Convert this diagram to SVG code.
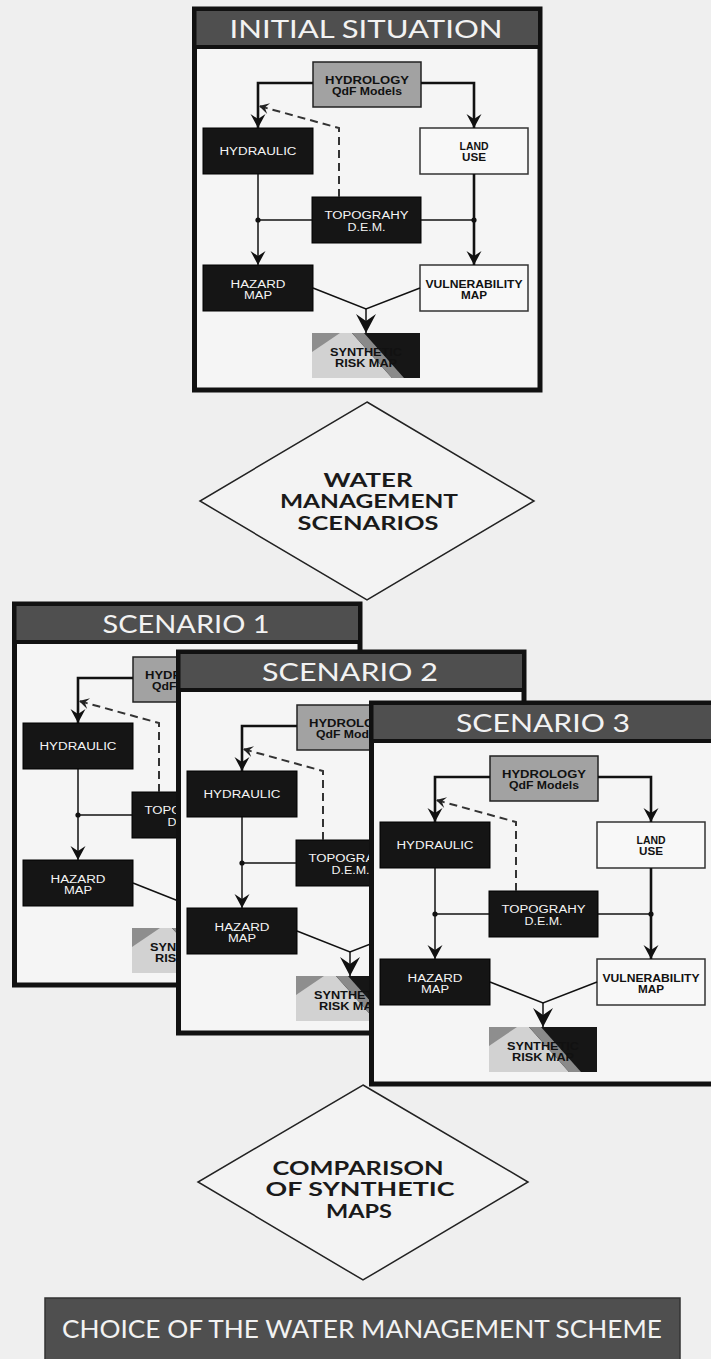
<svg xmlns="http://www.w3.org/2000/svg" width="711" height="1359" viewBox="0 0 711 1359">
<defs>
<style>
.frame{fill:#f5f5f5;stroke:#111;stroke-width:5}
.hdr{fill:#4f4f4f;stroke:#111;stroke-width:4}
.htxt{font-family:"Lato","Liberation Sans",sans-serif;font-size:25px;fill:#f2f2f2;text-anchor:middle}
.blk{fill:#151515;stroke:#000;stroke-width:1}
.gry{fill:#a2a2a2;stroke:#222;stroke-width:1.5}
.wht{fill:#f8f8f8;stroke:#333;stroke-width:1.5}
.wt{font-family:"Liberation Sans",Arial,sans-serif;font-size:10px;fill:#f4f4f4;text-anchor:middle}
.bt{font-family:"Liberation Sans",Arial,sans-serif;font-size:10.5px;font-weight:bold;fill:#111;text-anchor:middle}
.ln{stroke:#111;stroke-width:1.5;fill:none}
.thk{stroke:#111;stroke-width:2.6;fill:none}
.dash{stroke:#333;stroke-width:2;stroke-dasharray:8 5;fill:none}
.dot{fill:#111}
.dtxt{font-family:"Lato","Liberation Sans",sans-serif;font-size:19px;font-weight:bold;fill:#1a1a1a;text-anchor:middle}
.dia{fill:#f3f3f3;stroke:#222;stroke-width:1.5}
</style>
<marker id="ah" markerWidth="16" markerHeight="16" viewBox="-16 -8 16 16" refX="0" refY="0" orient="auto" markerUnits="userSpaceOnUse"><path d="M0,0 L-14,-7.5 L-9,0 L-14,7.5 Z" fill="#111"/></marker>
<marker id="ahb" markerWidth="22" markerHeight="22" viewBox="-22 -11 22 22" refX="0" refY="0" orient="auto" markerUnits="userSpaceOnUse"><path d="M0,0 L-19,-10 L-12,0 L-19,10 Z" fill="#111"/></marker>
<marker id="ahs" markerWidth="12" markerHeight="12" viewBox="-12 -6 12 12" refX="0" refY="0" orient="auto" markerUnits="userSpaceOnUse"><path d="M0,0 L-10,-5.5 L-6,0 L-10,5.5 Z" fill="#222"/></marker>
</defs>
<rect x="0" y="0" width="711" height="1359" fill="#efefef"/>

<!-- INITIAL SITUATION -->
<g id="initial-panel">
<rect class="frame" x="194.5" y="9" width="345.5" height="381"/>
<rect class="hdr" x="194.5" y="9" width="345.5" height="38"/>
<text class="htxt" x="366" y="38" textLength="273" lengthAdjust="spacingAndGlyphs">INITIAL SITUATION</text>
<g id="init-hydrology"><rect class="gry" x="313" y="62" width="108" height="45"/><text class="bt" x="367" y="84" textLength="84" lengthAdjust="spacingAndGlyphs">HYDROLOGY</text><text class="bt" x="367" y="95" textLength="70" lengthAdjust="spacingAndGlyphs">QdF Models</text></g>
<g id="init-hydraulic"><rect class="blk" x="203" y="128" width="110" height="46"/><text class="wt" x="258" y="155" textLength="77" lengthAdjust="spacingAndGlyphs">HYDRAULIC</text></g>
<g id="init-landuse"><rect class="wht" x="420" y="128" width="108" height="46"/><text class="bt" x="474" y="150" textLength="29" lengthAdjust="spacingAndGlyphs">LAND</text><text class="bt" x="474" y="161" textLength="24" lengthAdjust="spacingAndGlyphs">USE</text></g>
<g id="init-topography"><rect class="blk" x="312" y="197" width="109" height="46"/><text class="wt" x="366.5" y="219" textLength="84" lengthAdjust="spacingAndGlyphs">TOPOGRAHY</text><text class="wt" x="366.5" y="231" textLength="38" lengthAdjust="spacingAndGlyphs">D.E.M.</text></g>
<g id="init-hazard"><rect class="blk" x="203" y="265" width="110" height="46"/><text class="wt" x="258" y="288" textLength="55" lengthAdjust="spacingAndGlyphs">HAZARD</text><text class="wt" x="258" y="299" textLength="28" lengthAdjust="spacingAndGlyphs">MAP</text></g>
<g id="init-vulnerability"><rect class="wht" x="420" y="265" width="108" height="46"/><text class="bt" x="474" y="288" textLength="97" lengthAdjust="spacingAndGlyphs">VULNERABILITY</text><text class="bt" x="474" y="299" textLength="26" lengthAdjust="spacingAndGlyphs">MAP</text></g>
<g id="init-synthetic"><rect x="312" y="333" width="108" height="45" fill="#161616"/><polygon points="312,333 352,333 392,378 312,378" fill="#d2d2d2"/><polygon points="312,333 340,333 312,352" fill="#8e8e8e"/><polygon points="352,333 364,333 404,378 392,378" fill="#8a8a8a"/><text class="bt" x="366" y="356" textLength="72" lengthAdjust="spacingAndGlyphs">SYNTHETIC</text><text class="bt" x="366" y="367" textLength="62" lengthAdjust="spacingAndGlyphs">RISK MAP</text></g>
<g id="init-connectors">
<path class="thk" d="M313,83 H258 V128" marker-end="url(#ah)"/>
<path class="thk" d="M421,83 H474 V128" marker-end="url(#ah)"/>
<path class="ln" d="M258,174 V265" marker-end="url(#ah)"/>
<path class="thk" d="M474,174 V265" marker-end="url(#ah)"/>
<path class="ln" d="M312,220 H258"/><path class="ln" d="M421,220 H474"/>
<circle class="dot" cx="258" cy="220" r="2.6"/><circle class="dot" cx="474" cy="220" r="2.6"/>
<path class="dash" d="M339,197 V128 L259,106" marker-end="url(#ahs)"/>
<path class="ln" d="M313,288 L366,309 L420,288"/>
<path class="ln" d="M366,309 V333" marker-end="url(#ahb)"/>
</g>
</g>

<g id="water-scenarios">
<polygon class="dia" points="367,402 534,501 367,600 200,501"/>
<text class="dtxt" x="368" y="487" textLength="89" lengthAdjust="spacingAndGlyphs">WATER</text>
<text class="dtxt" x="369" y="508" textLength="178" lengthAdjust="spacingAndGlyphs">MANAGEMENT</text>
<text class="dtxt" x="368" y="530" textLength="141" lengthAdjust="spacingAndGlyphs">SCENARIOS</text>
</g>

<!-- SCENARIO 1 -->
<g id="scenario1" transform="translate(-180,595)">
<rect class="frame" x="194.5" y="9" width="345.5" height="381"/>
<rect class="hdr" x="194.5" y="9" width="345.5" height="38"/>
<text class="htxt" x="366" y="38" textLength="167" lengthAdjust="spacingAndGlyphs">SCENARIO 1</text>
<g id="s1-hydrology"><rect class="gry" x="313" y="62" width="108" height="45"/><text class="bt" x="367" y="84" textLength="84" lengthAdjust="spacingAndGlyphs">HYDROLOGY</text><text class="bt" x="367" y="95" textLength="70" lengthAdjust="spacingAndGlyphs">QdF Models</text></g>
<g id="s1-hydraulic"><rect class="blk" x="203" y="128" width="110" height="46"/><text class="wt" x="258" y="155" textLength="77" lengthAdjust="spacingAndGlyphs">HYDRAULIC</text></g>
<g id="s1-topography"><rect class="blk" x="312" y="197" width="109" height="46"/><text class="wt" x="366.5" y="219" textLength="84" lengthAdjust="spacingAndGlyphs">TOPOGRAHY</text><text class="wt" x="366.5" y="231" textLength="38" lengthAdjust="spacingAndGlyphs">D.E.M.</text></g>
<g id="s1-hazard"><rect class="blk" x="203" y="265" width="110" height="46"/><text class="wt" x="258" y="288" textLength="55" lengthAdjust="spacingAndGlyphs">HAZARD</text><text class="wt" x="258" y="299" textLength="28" lengthAdjust="spacingAndGlyphs">MAP</text></g>
<g id="s1-synthetic"><rect x="312" y="333" width="108" height="45" fill="#161616"/><polygon points="312,333 352,333 392,378 312,378" fill="#d2d2d2"/><polygon points="312,333 340,333 312,352" fill="#8e8e8e"/><polygon points="352,333 364,333 404,378 392,378" fill="#8a8a8a"/><text class="bt" x="366" y="356" textLength="72" lengthAdjust="spacingAndGlyphs">SYNTHETIC</text><text class="bt" x="366" y="367" textLength="62" lengthAdjust="spacingAndGlyphs">RISK MAP</text></g>
<g id="s1-connectors">
<path class="thk" d="M313,83 H258 V128" marker-end="url(#ah)"/>
<path class="ln" d="M258,174 V265" marker-end="url(#ah)"/>
<path class="ln" d="M312,220 H258"/>
<circle class="dot" cx="258" cy="220" r="2.6"/>
<path class="dash" d="M339,197 V128 L259,106" marker-end="url(#ahs)"/>
<path class="ln" d="M313,288 L366,309"/>
</g>
</g>

<!-- SCENARIO 2 -->
<g id="scenario2" transform="translate(-16,643)">
<rect class="frame" x="194.5" y="9" width="345.5" height="381"/>
<rect class="hdr" x="194.5" y="9" width="345.5" height="38"/>
<text class="htxt" x="366" y="38" textLength="176" lengthAdjust="spacingAndGlyphs">SCENARIO 2</text>
<g id="s2-hydrology"><rect class="gry" x="313" y="62" width="108" height="45"/><text class="bt" x="367" y="84" textLength="84" lengthAdjust="spacingAndGlyphs">HYDROLOGY</text><text class="bt" x="367" y="95" textLength="70" lengthAdjust="spacingAndGlyphs">QdF Models</text></g>
<g id="s2-hydraulic"><rect class="blk" x="203" y="128" width="110" height="46"/><text class="wt" x="258" y="155" textLength="77" lengthAdjust="spacingAndGlyphs">HYDRAULIC</text></g>
<g id="s2-topography"><rect class="blk" x="312" y="197" width="109" height="46"/><text class="wt" x="366.5" y="219" textLength="84" lengthAdjust="spacingAndGlyphs">TOPOGRAHY</text><text class="wt" x="366.5" y="231" textLength="38" lengthAdjust="spacingAndGlyphs">D.E.M.</text></g>
<g id="s2-hazard"><rect class="blk" x="203" y="265" width="110" height="46"/><text class="wt" x="258" y="288" textLength="55" lengthAdjust="spacingAndGlyphs">HAZARD</text><text class="wt" x="258" y="299" textLength="28" lengthAdjust="spacingAndGlyphs">MAP</text></g>
<g id="s2-synthetic"><rect x="312" y="333" width="108" height="45" fill="#161616"/><polygon points="312,333 352,333 392,378 312,378" fill="#d2d2d2"/><polygon points="312,333 340,333 312,352" fill="#8e8e8e"/><polygon points="352,333 364,333 404,378 392,378" fill="#8a8a8a"/><text class="bt" x="366" y="356" textLength="72" lengthAdjust="spacingAndGlyphs">SYNTHETIC</text><text class="bt" x="366" y="367" textLength="62" lengthAdjust="spacingAndGlyphs">RISK MAP</text></g>
<g id="s2-connectors">
<path class="thk" d="M313,83 H258 V128" marker-end="url(#ah)"/>
<path class="ln" d="M258,174 V265" marker-end="url(#ah)"/>
<path class="ln" d="M312,220 H258"/>
<circle class="dot" cx="258" cy="220" r="2.6"/>
<path class="dash" d="M339,197 V128 L259,106" marker-end="url(#ahs)"/>
<path class="ln" d="M313,288 L366,309 L420,288"/>
<path class="ln" d="M366,309 V333" marker-end="url(#ahb)"/>
</g>
</g>

<!-- SCENARIO 3 -->
<g id="scenario3" transform="translate(177,694)">
<rect class="frame" x="194.5" y="9" width="345.5" height="381"/>
<rect class="hdr" x="194.5" y="9" width="345.5" height="38"/>
<text class="htxt" x="366" y="38" textLength="174" lengthAdjust="spacingAndGlyphs">SCENARIO 3</text>
<g id="s3-hydrology"><rect class="gry" x="313" y="62" width="108" height="45"/><text class="bt" x="367" y="84" textLength="84" lengthAdjust="spacingAndGlyphs">HYDROLOGY</text><text class="bt" x="367" y="95" textLength="70" lengthAdjust="spacingAndGlyphs">QdF Models</text></g>
<g id="s3-hydraulic"><rect class="blk" x="203" y="128" width="110" height="46"/><text class="wt" x="258" y="155" textLength="77" lengthAdjust="spacingAndGlyphs">HYDRAULIC</text></g>
<g id="s3-landuse"><rect class="wht" x="420" y="128" width="108" height="46"/><text class="bt" x="474" y="150" textLength="29" lengthAdjust="spacingAndGlyphs">LAND</text><text class="bt" x="474" y="161" textLength="24" lengthAdjust="spacingAndGlyphs">USE</text></g>
<g id="s3-topography"><rect class="blk" x="312" y="197" width="109" height="46"/><text class="wt" x="366.5" y="219" textLength="84" lengthAdjust="spacingAndGlyphs">TOPOGRAHY</text><text class="wt" x="366.5" y="231" textLength="38" lengthAdjust="spacingAndGlyphs">D.E.M.</text></g>
<g id="s3-hazard"><rect class="blk" x="203" y="265" width="110" height="46"/><text class="wt" x="258" y="288" textLength="55" lengthAdjust="spacingAndGlyphs">HAZARD</text><text class="wt" x="258" y="299" textLength="28" lengthAdjust="spacingAndGlyphs">MAP</text></g>
<g id="s3-vulnerability"><rect class="wht" x="420" y="265" width="108" height="46"/><text class="bt" x="474" y="288" textLength="97" lengthAdjust="spacingAndGlyphs">VULNERABILITY</text><text class="bt" x="474" y="299" textLength="26" lengthAdjust="spacingAndGlyphs">MAP</text></g>
<g id="s3-synthetic"><rect x="312" y="333" width="108" height="45" fill="#161616"/><polygon points="312,333 352,333 392,378 312,378" fill="#d2d2d2"/><polygon points="312,333 340,333 312,352" fill="#8e8e8e"/><polygon points="352,333 364,333 404,378 392,378" fill="#8a8a8a"/><text class="bt" x="366" y="356" textLength="72" lengthAdjust="spacingAndGlyphs">SYNTHETIC</text><text class="bt" x="366" y="367" textLength="62" lengthAdjust="spacingAndGlyphs">RISK MAP</text></g>
<g id="s3-connectors">
<path class="thk" d="M313,83 H258 V128" marker-end="url(#ah)"/>
<path class="thk" d="M421,83 H474 V128" marker-end="url(#ah)"/>
<path class="ln" d="M258,174 V265" marker-end="url(#ah)"/>
<path class="thk" d="M474,174 V265" marker-end="url(#ah)"/>
<path class="ln" d="M312,220 H258"/><path class="ln" d="M421,220 H474"/>
<circle class="dot" cx="258" cy="220" r="2.6"/><circle class="dot" cx="474" cy="220" r="2.6"/>
<path class="dash" d="M339,197 V128 L259,106" marker-end="url(#ahs)"/>
<path class="ln" d="M313,288 L366,309 L420,288"/>
<path class="ln" d="M366,309 V333" marker-end="url(#ahb)"/>
</g>
</g>

<g id="comparison">
<polygon class="dia" points="363,1085 528,1182 363,1280 198,1182"/>
<text class="dtxt" x="358" y="1175" font-size="18.5" textLength="171" lengthAdjust="spacingAndGlyphs">COMPARISON</text>
<text class="dtxt" x="360" y="1196" font-size="18.5" textLength="189" lengthAdjust="spacingAndGlyphs">OF SYNTHETIC</text>
<text class="dtxt" x="359" y="1218" font-size="18.5" textLength="66" lengthAdjust="spacingAndGlyphs">MAPS</text>
</g>

<g id="choice">
<rect x="45" y="1298" width="635" height="70" fill="#4f4f4f" stroke="#333" stroke-width="1.5"/>
<text class="htxt" x="362" y="1338" font-size="22" textLength="600" lengthAdjust="spacingAndGlyphs">CHOICE OF THE WATER MANAGEMENT SCHEME</text>
</g>
</svg>
